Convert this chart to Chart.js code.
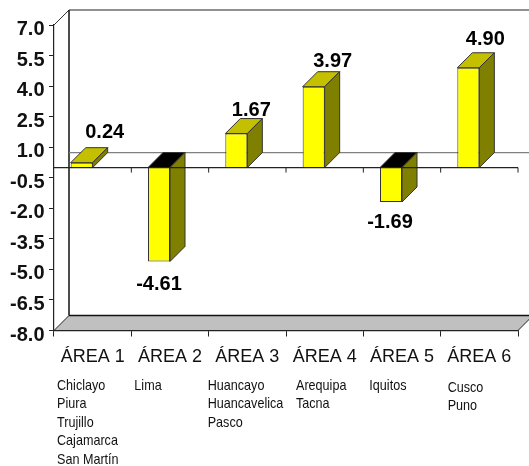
<!DOCTYPE html>
<html>
<head>
<meta charset="utf-8">
<script src="https://cdn.jsdelivr.net/npm/chart.js@4"></script>
<style>
  html, body { margin: 0; padding: 0; background: #fff; }
  canvas { display: block; }
</style>
</head>
<body>
<canvas id="graphCanvas" width="529" height="466"></canvas>
<script>
const areas = ['ÁREA 1', 'ÁREA 2', 'ÁREA 3', 'ÁREA 4', 'ÁREA 5', 'ÁREA 6'];
const values = [0.24, -4.61, 1.67, 3.97, -1.69, 4.90];
const cities = [
    ['Chiclayo', 'Piura', 'Trujillo', 'Cajamarca', 'San Martín'],
    ['Lima'],
    ['Huancayo', 'Huancavelica', 'Pasco'],
    ['Arequipa', 'Tacna'],
    ['Iquitos'],
    ['Cusco', 'Puno']
];
const yMin = -8;
const yMax = 7;
const yStep = 1.5;

// 3D look of the old chart
const depth = 15;
const barShift = -11; // bars sit left of the band centre, the depth takes the rest
const labelNudge = [[23, -10], [0, 29], [15, -3], [19, -5], [-1, 26], [17, -8]];
const cityNudge = [3, 3, -1, 10, 6, 7];
const cityDrop = [0, 0, 0, 0, 0, 2];

const sansFont = '"Liberation Sans", Arial, sans-serif';

function poly(ctx, pts, fill, stroke) {
    ctx.beginPath();
    pts.forEach((p, i) => i ? ctx.lineTo(p[0], p[1]) : ctx.moveTo(p[0], p[1]));
    ctx.closePath();
    ctx.fillStyle = fill;
    ctx.fill();
    ctx.strokeStyle = stroke;
    ctx.lineWidth = 1;
    ctx.stroke();
}

function line(ctx, x1, y1, x2, y2, color, width) {
    ctx.beginPath();
    ctx.moveTo(x1, y1);
    ctx.lineTo(x2, y2);
    ctx.strokeStyle = color;
    ctx.lineWidth = width;
    ctx.stroke();
}

const box3d = {
    id: 'box3d',
    beforeDatasetsDraw(chart) {
        const { ctx, chartArea: a, scales: { y } } = chart;
        const zero = y.getPixelForValue(0);
        const w = chart.width;
        ctx.save();
        poly(ctx, [[a.left, a.bottom], [a.left + depth, a.bottom - depth],
            [a.right + depth, a.bottom - depth], [a.right, a.bottom]], '#c0c0c0', '#222');
        line(ctx, a.left, a.top, a.left + depth, a.top - depth, '#333', 1);
        line(ctx, a.left + depth, a.top - depth, w, a.top - depth, '#222', 1.2);
        line(ctx, a.left + depth, a.top - depth, a.left + depth, a.bottom - depth, '#111', 1.5);
        line(ctx, a.left + depth, a.bottom - depth, w, a.bottom - depth, '#111', 1.5);
        line(ctx, a.left + depth, zero - depth, w, zero - depth, '#808080', 1.2);
        ctx.restore();
    },
    beforeDatasetDraw(chart, args) {
        const { ctx } = chart;
        ctx.save();
        ctx.translate(barShift, 0);
        args.meta.data.forEach((bar, i) => {
            const xl = bar.x - bar.width / 2;
            const xr = bar.x + bar.width / 2;
            const yt = Math.min(bar.y, bar.base);
            const yb = Math.max(bar.y, bar.base);
            const topColor = values[i] < 0 ? '#000000' : '#c4c000';
            poly(ctx, [[xl, yt], [xl + depth, yt - depth], [xr + depth, yt - depth], [xr, yt]], topColor, '#333');
            poly(ctx, [[xr, yt], [xr + depth, yt - depth], [xr + depth, yb - depth], [xr, yb]], '#808000', '#333');
        });
    },
    afterDatasetDraw(chart) {
        chart.ctx.restore();
    },
    afterDatasetsDraw(chart) {
        const { ctx, chartArea: a, scales: { y } } = chart;
        const zero = y.getPixelForValue(0);
        const band = (a.right - a.left) / areas.length;
        ctx.save();
        line(ctx, a.left, zero, a.right, zero, '#222', 1.2);
        for (let i = 1; i <= areas.length; i++) {
            const tx = a.left + band * i;
            line(ctx, tx, zero, tx, zero + 5, '#222', 1);
        }
        // value labels
        ctx.font = 'bold 20px ' + sansFont;
        ctx.fillStyle = '#000';
        ctx.textAlign = 'center';
        ctx.textBaseline = 'alphabetic';
        chart.getDatasetMeta(0).data.forEach((bar, i) => {
            const cx = bar.x + barShift + labelNudge[i][0];
            const edge = values[i] < 0 ? bar.y : bar.y - depth;
            ctx.fillText(values[i].toFixed(2), cx, edge + labelNudge[i][1]);
        });
        // y labels sit a little under their ticks in the original
        ctx.textAlign = 'right';
        ctx.fillStyle = '#111';
        y.ticks.forEach((t, i) => {
            ctx.fillText(t.value.toFixed(1), a.left - 9.5, y.getPixelForTick(i) + 10);
        });
        // cities under each area, squeezed like the original narrow font
        ctx.font = '15px ' + sansFont;
        ctx.textAlign = 'left';
        cities.forEach((names, i) => {
            names.forEach((name, j) => {
                const cy = a.bottom + 59 + cityDrop[i] + j * 18.6;
                ctx.save();
                ctx.translate(a.left + band * i + cityNudge[i], cy);
                ctx.scale(0.84, 1);
                ctx.fillText(name, 0, 0);
                ctx.restore();
            });
        });
        ctx.restore();
    }
};

new Chart(document.getElementById('graphCanvas').getContext('2d'), {
    type: 'bar',
    data: {
        labels: areas,
        datasets: [{
            data: values,
            backgroundColor: '#ffff00',
            borderColor: '#333',
            borderWidth: 1,
            categoryPercentage: 22 / 77.3,
            barPercentage: 1,
            clip: false
        }]
    },
    options: {
        responsive: false,
        animation: false,
        layout: { padding: { top: 25, right: 11, left: 0, bottom: 0 } },
        plugins: {
            legend: { display: false },
            tooltip: { enabled: false }
        },
        scales: {
            x: {
                grid: { drawOnChartArea: false, offset: true, tickLength: 6, color: '#222' },
                border: { color: '#222', width: 1.2 },
                ticks: {
                    color: '#111',
                    font: { family: sansFont, size: 18 },
                    padding: 10,
                    maxRotation: 0,
                    autoSkip: false
                },
                afterFit(scale) { scale.height = 135.5; }
            },
            y: {
                min: yMin,
                max: yMax,
                grid: { drawOnChartArea: false, tickLength: 5, color: '#222' },
                border: { color: '#222', width: 1.2 },
                ticks: {
                    display: false,
                    stepSize: yStep
                },
                afterFit(scale) { scale.width = 54; }
            }
        }
    },
    plugins: [box3d]
});
</script>
</body>
</html>
